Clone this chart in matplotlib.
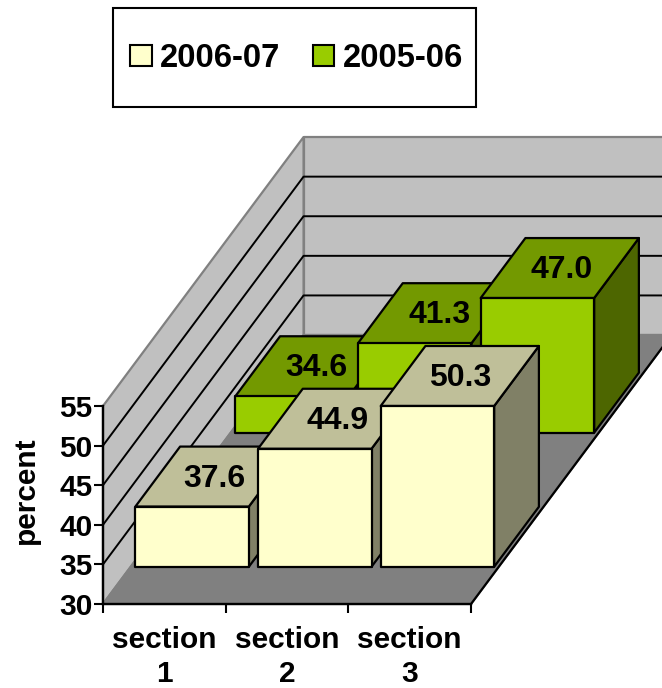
import matplotlib
matplotlib.use('Agg')
import matplotlib.pyplot as plt
from matplotlib.patches import Polygon, Patch, Rectangle

plt.rcParams['font.family'] = ['Liberation Sans', 'DejaVu Sans']
plt.rcParams['font.weight'] = 'bold'

# data
sections = ['section\n1', 'section\n2', 'section\n3']
values_0607 = [37.6, 44.9, 50.3]
values_0506 = [34.6, 41.3, 47.0]
yticks = [30, 35, 40, 45, 50, 55]
legend_labels = ['2006-07', '2005-06']

# colours: front, top, side
cream = ('#FFFFCC', '#BFBF99', '#808066')
green = ('#99CC00', '#739900', '#4D6600')

# oblique projection, depth 0..1 moves the point back along the floor
DX = 1.635   # in category units
DY = 33.96   # in percent units
BAR_W = 0.925
BAR_D = 0.223
W, H = 662, 688


def proj(x, v, z):
    return (x + z * DX, v + z * DY)


def poly(ax, pts, color, edge='black', lw=1.6):
    ax.add_patch(Polygon([proj(*p) for p in pts], closed=True, facecolor=color,
                         edgecolor=edge, linewidth=lw, joinstyle='round', clip_on=False))


def draw_bars(ax, values, row_z, cols, label_dx):
    front, top, side = cols
    z0 = row_z - BAR_D / 2
    z1 = row_z + BAR_D / 2
    for i, v in enumerate(values):
        x0 = i + 0.5 - BAR_W / 2
        x1 = i + 0.5 + BAR_W / 2
        poly(ax, [(x1, 30, z0), (x1, 30, z1), (x1, v, z1), (x1, v, z0)], side)
        poly(ax, [(x0, v, z0), (x1, v, z0), (x1, v, z1), (x0, v, z1)], top)
        poly(ax, [(x0, 30, z0), (x1, 30, z0), (x1, v, z0), (x0, v, z0)], front)
        ax.annotate('%.1f' % v, xy=proj(i + 0.5, v, row_z), xytext=(label_dx, -1.5),
                    textcoords='offset points', ha='center', va='center', fontsize=23,
                    fontweight='bold', color='black', zorder=5, annotation_clip=False)


fig = plt.figure(figsize=(W / 100, H / 100), dpi=100)
ax = fig.add_axes([103 / W, 1 - 604 / H, 368 / W, 198 / H])
ax.set_xlim(0, 3)
ax.set_ylim(30, 55)
ax.patch.set_visible(False)

# walls and floor
xmax = 3
poly(ax, [(0, 30, 1), (xmax, 30, 1), (xmax, 55, 1), (0, 55, 1)], '#C0C0C0', edge='#808080')
poly(ax, [(0, 30, 0), (0, 30, 1), (0, 55, 1), (0, 55, 0)], '#C0C0C0', edge='#808080')
poly(ax, [(0, 30, 0), (xmax, 30, 0), (xmax, 30, 1), (0, 30, 1)], '#808080', edge='#808080')

for t in yticks[1:-1]:
    p0, p1, p2 = proj(0, t, 0), proj(0, t, 1), proj(xmax, t, 1)
    ax.plot([p0[0], p1[0], p2[0]], [p0[1], p1[1], p2[1]], color='black', lw=1.4,
            clip_on=False, zorder=1)
e0, e1 = proj(xmax, 30, 0), proj(xmax, 30, 1)
ax.plot([e0[0], e1[0]], [e0[1], e1[1]], color='black', lw=1.6, clip_on=False, zorder=1.5)

# back row first, then the front row covers it
draw_bars(ax, values_0506, 0.7485, green, 1.5)
draw_bars(ax, values_0607, 0.25, cream, 0)

# axes
for s in ['top', 'right']:
    ax.spines[s].set_visible(False)
for s in ['left', 'bottom']:
    ax.spines[s].set_linewidth(1.7)
    ax.spines[s].set_zorder(4)
ax.set_yticks(yticks)
ax.set_xticks([0, 1, 2, 3])
ax.set_xticklabels([])
ax.set_xticks([0.5, 1.5, 2.5], minor=True)
ax.set_xticklabels(sections, minor=True, fontsize=21.5, fontweight='bold', linespacing=1.25)
ax.tick_params(axis='x', which='major', length=6.5, width=1.5)
ax.tick_params(axis='x', which='minor', length=0, pad=16)
ax.tick_params(axis='y', length=6.5, width=1.5, pad=1, labelsize=21.5)
for lab in ax.get_yticklabels():
    lab.set_fontweight('bold')
ax.set_ylabel('percent', fontsize=21.5, fontweight='bold')
ax.yaxis.set_label_coords(-0.17, 0.575)

# legend
fig.add_artist(Rectangle((113.5 / W, 1 - 106.5 / H), 362.5 / W, 98 / H, transform=fig.transFigure,
                         facecolor='white', edgecolor='black', linewidth=1.5))
handles = [Patch(facecolor=cream[0], edgecolor='black', linewidth=1.5, label=legend_labels[0]),
           Patch(facecolor=green[0], edgecolor='black', linewidth=1.5, label=legend_labels[1])]
fig.legend(handles=handles, loc='center', bbox_to_anchor=(296.5 / W, 1 - 58.5 / H), ncol=2, frameon=False,
           prop={'family': 'Liberation Sans', 'weight': 'bold', 'size': 23.6},
           handlelength=0.65, handleheight=0.6, handletextpad=0.25, columnspacing=1.0)

fig.savefig('out.png', dpi=100)
